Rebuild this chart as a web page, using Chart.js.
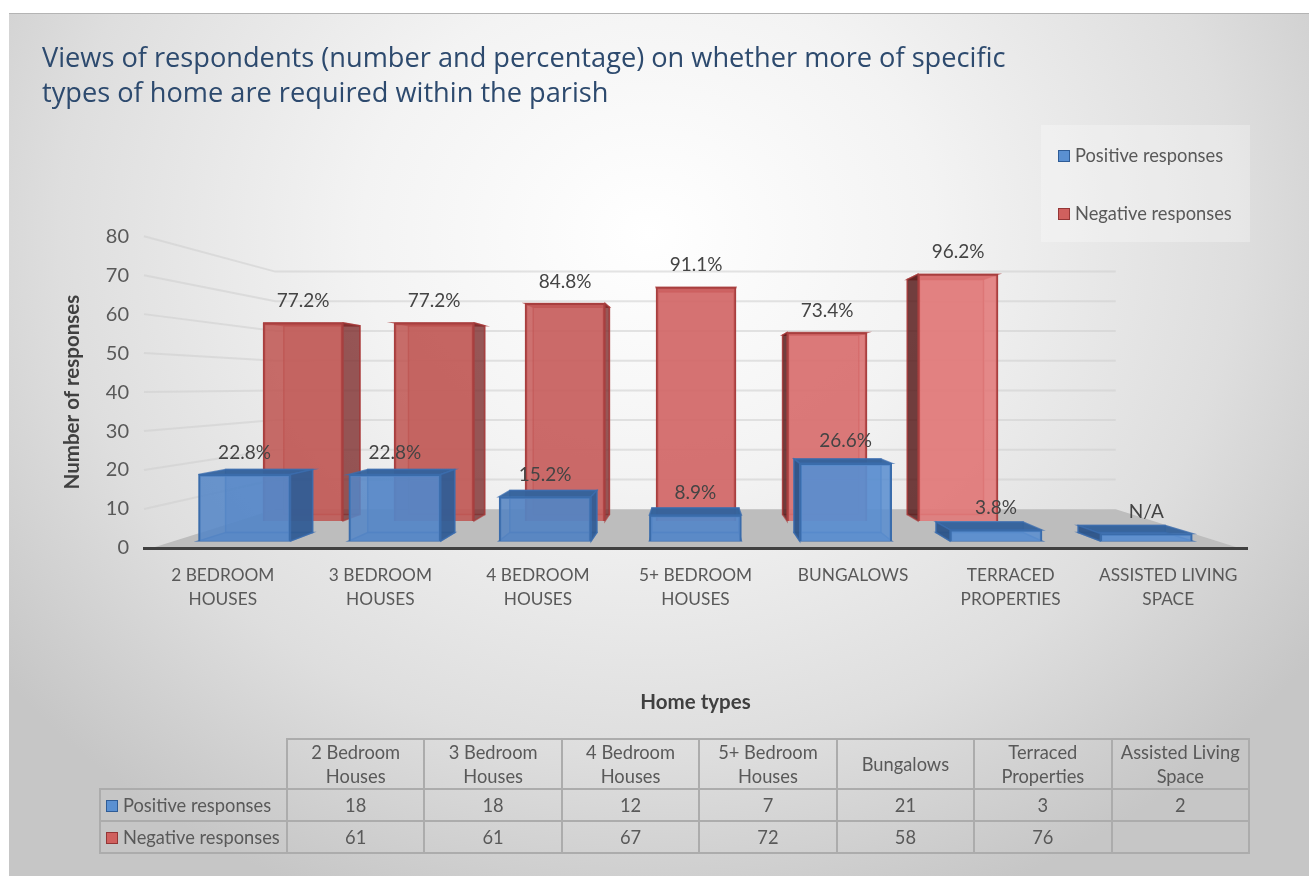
<!DOCTYPE html>
<html>
<head>
<meta charset="utf-8">
<title>Home types</title>
<script src="https://cdn.jsdelivr.net/npm/chart.js@4"></script>
<style>
  html, body { margin: 0; padding: 0; background: #fff; overflow: hidden; }
  #panel {
    position: absolute; left: 9px; top: 13px; width: 1300px; height: 863px;
    border-top: 1px solid #b4b4b4; box-sizing: border-box;
    background: radial-gradient(ellipse 820px 720px at 640px 220px, #ffffff 0%, #f3f3f3 35%, #dedede 72%, #c6c6c6 100%);
  }
  #chart { position: absolute; left: 0; top: 0; }
  #legend {
    position: absolute; left: 1041px; top: 125px; width: 209px; height: 117px;
    background: rgba(255,255,255,.28);
    font: 18.3px Lato, sans-serif; color: #595959;
  }
  #legend div { position: absolute; left: 17px; white-space: nowrap; }
  .swatch { display: inline-block; width: 10px; height: 10px; margin-right: 5px; border: 1px solid; }
  #dataTable {
    position: absolute; left: 99px; top: 738px; width: 1151px;
    border-collapse: collapse; table-layout: fixed;
    font: 18.3px/24px Lato, sans-serif; color: #595959;
  }
  #dataTable td { border: 2px solid #acacac; text-align: center; padding: 0; box-sizing: border-box; }
  #dataTable td.name { text-align: left; padding-left: 5px; white-space: nowrap; }
  #dataTable td.blank { border-top: none; border-left: none; }
</style>
</head>
<body>
<div id="panel"></div>
<canvas id="chart" width="1309" height="876"></canvas>
<div id="legend"></div>
<table id="dataTable"></table>
<script>
const axisLabels = [["2 BEDROOM", "HOUSES"], ["3 BEDROOM", "HOUSES"], ["4 BEDROOM", "HOUSES"], ["5+ BEDROOM", "HOUSES"], "BUNGALOWS", ["TERRACED", "PROPERTIES"], ["ASSISTED LIVING", "SPACE"]];
const tableLabels = [["2 Bedroom", "Houses"], ["3 Bedroom", "Houses"], ["4 Bedroom", "Houses"], ["5+ Bedroom", "Houses"], ["Bungalows"], ["Terraced", "Properties"], ["Assisted Living", "Space"]];
const positive = [18, 18, 12, 7, 21, 3, 2];
const negative = [61, 61, 67, 72, 58, 76, null];
const positivePct = ["22.8%", "22.8%", "15.2%", "8.9%", "26.6%", "3.8%", "N/A"];
const negativePct = ["77.2%", "77.2%", "84.8%", "91.1%", "73.4%", "96.2%", ""];
const seriesNames = ["Positive responses", "Negative responses"];

const blueFront = ["#5486c6", "#5486c6", "#5484c2", "#5587c8", "#5a8ed0", "#5a8ed0", "#5a8ed0"];
const redFront = ["#c05653", "#c05653", "#c65c5b", "#d26565", "#d96e6e", "#e27878", "#e27878"];

// the picture is a fake 3D view, depth lines all run to this point
const vanish = { x: 695.5, y: 385 };
const depth = { wall: 0.238, 0: 0.0545, 1: 0.048 };

function toBack(x, y, t) {
  return [x + (vanish.x - x) * t, y + (vanish.y - y) * t];
}

function poly(ctx, pts, fill, stroke) {
  ctx.beginPath();
  pts.forEach((p, i) => i ? ctx.lineTo(p[0], p[1]) : ctx.moveTo(p[0], p[1]));
  ctx.closePath();
  if (fill) { ctx.fillStyle = fill; ctx.fill(); }
  if (stroke) { ctx.strokeStyle = stroke; ctx.stroke(); }
}

const box3d = {
  id: 'box3d',
  beforeDraw(chart) {
    // back wall, side wall lines and the floor
    const { ctx, chartArea: a, scales } = chart;
    const t = depth.wall;
    ctx.save();
    ctx.lineWidth = 2;
    scales.y.ticks.forEach(tick => {
      const y = scales.y.getPixelForValue(tick.value);
      if (tick.value === 0) return;
      const l = toBack(a.left, y, t), r = toBack(a.right, y, t);
      ctx.strokeStyle = 'rgba(205,205,205,.55)';
      ctx.beginPath();
      ctx.moveTo(a.left, y);
      ctx.lineTo(l[0], l[1]);
      ctx.lineTo(r[0], r[1]);
      ctx.stroke();
    });
    const fl = toBack(a.left, a.bottom, t), fr = toBack(a.right, a.bottom, t);
    poly(ctx, [[a.left + 8, a.bottom], [fl[0], fl[1]], [fr[0], fr[1]], [a.right - 8, a.bottom]], '#bdbdbd');
    ctx.restore();
  },
  beforeDatasetDraw(chart, args) {
    const { ctx } = chart;
    const t = depth[args.index];
    const isBlue = args.index === 0;
    // left bars show their lighter side, right bars the darker one
    const sideR = isBlue ? 'rgba(48,90,145,.9)' : 'rgba(115,40,40,.7)';
    const sideL = isBlue ? 'rgba(44,84,136,.92)' : 'rgba(80,24,24,.78)';
    const top = isBlue ? 'rgba(52,98,155,.95)' : 'rgba(150,55,55,.85)';
    const inner = isBlue ? 'rgba(60,110,175,.75)' : 'rgba(170,60,60,.7)';
    ctx.save();
    ctx.lineWidth = 1.5;
    args.meta.data.forEach((bar, i) => {
      if (bar.skip || (isBlue ? positive : negative)[i] == null) return;
      const x1 = bar.x - bar.width / 2, x2 = bar.x + bar.width / 2, y1 = bar.y, y2 = bar.base;
      const bl = toBack(x1, y2, t), br = toBack(x2, y2, t), tl = toBack(x1, y1, t), tr = toBack(x2, y1, t);
      poly(ctx, [tl, tr, br, bl], isBlue ? 'rgba(90,140,205,.5)' : 'rgba(200,95,95,.35)', inner);
      poly(ctx, [[x1, y1], [x2, y1], tr, tl], top, inner);
      if (isBlue) poly(ctx, [[x1, y2], [x2, y2], br, bl], 'rgba(80,130,195,.55)', inner);
      if (x2 < vanish.x) poly(ctx, [[x2, y1], tr, br, [x2, y2]], sideR, inner);
      if (x1 > vanish.x) poly(ctx, [[x1, y1], tl, bl, [x1, y2]], sideL, inner);
    });
    ctx.restore();
  },
  afterDatasetsDraw(chart) {
    const { ctx } = chart;
    ctx.save();
    ctx.font = '19px Lato, sans-serif';
    ctx.fillStyle = '#444';
    ctx.textAlign = 'center';
    ctx.textBaseline = 'middle';
    [positivePct, negativePct].forEach((labels, d) => {
      chart.getDatasetMeta(d).data.forEach((bar, i) => {
        if (labels[i]) ctx.fillText(labels[i], bar.x, bar.y - 22);
      });
    });
    ctx.restore();
  }
};

new Chart(document.getElementById('chart'), {
  type: 'bar',
  data: {
    labels: axisLabels,
    datasets: [{
      label: seriesNames[0],
      data: positive.map((v, i) => ({ x: i, y: v })),
      xAxisID: 'xBlue', yAxisID: 'yBlue', base: 0, grouped: false,
      backgroundColor: blueFront.map(c => c + 'dd'),
      borderColor: '#3a6cab', borderWidth: 2,
      barThickness: 92
    }, {
      label: seriesNames[1],
      data: negative.map((v, i) => ({ x: i, y: v })),
      xAxisID: 'xRed', yAxisID: 'yRed', base: 0, grouped: false,
      backgroundColor: redFront.map(c => c + 'dd'),
      borderColor: '#a83f3f', borderWidth: 2,
      barThickness: 80
    }]
  },
  options: {
    responsive: false,
    animation: false,
    layout: { padding: { left: 42, right: 62, top: 42, bottom: 161 } },
    plugins: {
      legend: { display: false },
      tooltip: { enabled: false },
      title: {
        display: true,
        align: 'start',
        text: ["Views of respondents (number and percentage) on whether more of specific", "types of home are required within the parish"],
        color: '#2d4a6e',
        font: { family: "'Open Sans', sans-serif", size: 27.2, weight: 'normal', lineHeight: 1.29 },
        padding: { top: 0, bottom: 124 }
      }
    },
    scales: {
      x: {
        type: 'category',
        afterFit: s => { s.height = 167; },
        grid: { display: false },
        border: { color: '#404040', width: 3 },
        ticks: { color: '#595959', font: { family: 'Lato', size: 17.3, lineHeight: 1.4 }, padding: 7, maxRotation: 0, autoSkip: false },
        title: { display: true, text: 'Home types', color: '#404040', font: { family: 'Lato', size: 20.5, weight: 'bold' }, padding: { top: 0, bottom: 0 } }
      },
      y: {
        min: 0, max: 80,
        afterFit: s => { s.width = 102; },
        grid: { display: false },
        border: { display: false },
        ticks: { stepSize: 10, color: '#595959', font: { family: 'Lato', size: 20 }, padding: 7 },
        title: { display: true, text: 'Number of responses', color: '#404040', font: { family: 'Lato', size: 20.5, weight: 'bold' }, padding: { top: 18, bottom: 0 } }
      },
      // hidden scales: each row of boxes sits on its own plane, nearer or farther than the axes
      xBlue: { type: 'linear', display: false, offset: false, min: -0.6687, max: 6.670 },
      yBlue: { type: 'linear', display: false, min: -1.892, max: 82.43 },
      xRed: { type: 'linear', display: false, offset: false, min: -1.214, max: 7.206 },
      yRed: { type: 'linear', display: false, min: -8.31, max: 87.69 }
    }
  },
  plugins: [box3d]
});

// legend
const legendBox = document.getElementById('legend');
const swatchStyle = [['#5a90d2', '#2f5c96'], ['#d0605e', '#943636']];
function swatch(i) {
  return '<span class="swatch" style="background:' + swatchStyle[i][0] + ';border-color:' + swatchStyle[i][1] + '"></span>';
}
seriesNames.forEach((name, i) => {
  const d = document.createElement('div');
  d.style.top = (19 + i * 58) + 'px';
  d.innerHTML = swatch(i) + name;
  legendBox.appendChild(d);
});

// data table under the chart
const table = document.getElementById('dataTable');
let html = '<colgroup><col style="width:187px">' + tableLabels.map(() => '<col>').join('') + '</colgroup>';
html += '<tr style="height:49px"><td class="blank"></td>' + tableLabels.map(l => '<td>' + l.join('<br>') + '</td>').join('') + '</tr>';
[positive, negative].forEach((row, i) => {
  html += '<tr style="height:32px"><td class="name">' + swatch(i) + seriesNames[i] + '</td>';
  html += row.map(v => '<td>' + (v == null ? '' : v) + '</td>').join('') + '</tr>';
});
table.innerHTML = html;
</script>
</body>
</html>
